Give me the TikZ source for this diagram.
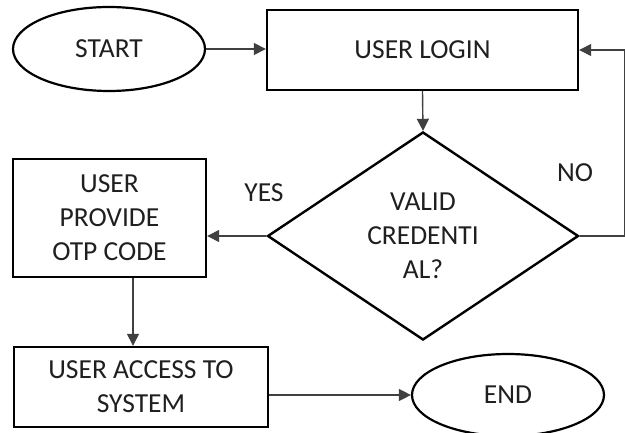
\documentclass[tikz,border=0pt]{standalone}
\usepackage{fontspec}
\setmainfont{Carlito}
\usetikzlibrary{shapes.geometric,arrows.meta}
\begin{document}
\begin{tikzpicture}[x=1pt,y=-1pt,
  every node/.style={font=\fontsize{27.5}{34}\selectfont, text=black!88, align=center},
  box/.style={draw=black, line width=2.4pt, rectangle, inner sep=0pt},
  term/.style={draw=black, line width=2.2pt, ellipse, inner sep=0pt, minimum width=192pt, minimum height=84pt},
  decision/.style={draw=black, line width=2.4pt, diamond, aspect=1.5, inner sep=0pt, minimum width=311pt, minimum height=208pt},
  arr/.style={draw=black!75, line width=1.4pt, -{Triangle[length=12pt,width=12pt]}},
  lbl/.style={inner sep=0pt}]
\useasboundingbox (0,0) rectangle (625,433);
\node[term] (start) at (109,49) {START};
\node[box, minimum width=311pt, minimum height=80pt] (login) at (422.5,50) {USER LOGIN};
\node[decision] (dec) at (423,236) {VALID\\CREDENTI\\AL?};
\node[box, minimum width=193pt, minimum height=118pt] (prov) at (109.5,218) {USER\\PROVIDE\\OTP CODE};
\node[box, minimum width=254pt, minimum height=80pt] (access) at (141,387) {USER ACCESS TO\\SYSTEM};
\node[term, minimum height=82pt] (end) at (508,395) {END};
\node[lbl] (yes) at (264,193) {YES};
\node[lbl] (no) at (575,173) {NO};
\draw[arr] (start.east) -- (start.east -| login.west);
\draw[arr] (login.south) -- (dec.north);
\draw[arr] (dec.west) -- (dec.west -| prov.east);
\draw[arr] (dec.east) -- ++(45,0) |- (login.east);
\draw[arr] ([xshift=23.5pt]prov.south) -- ([xshift=23.5pt]prov.south |- access.north);
\draw[arr] (end.west -| access.east) -- (end.west);
\end{tikzpicture}
\end{document}
